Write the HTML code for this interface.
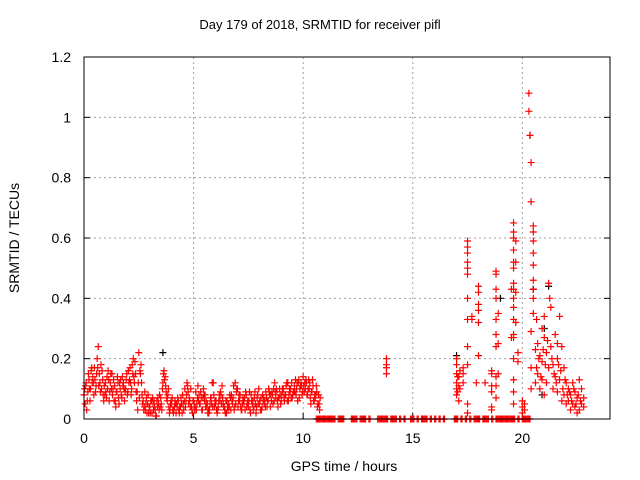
<!DOCTYPE html>
<html><head><meta charset="utf-8"><style>
body{margin:0;background:#fff;}
svg{display:block;font-family:"Liberation Sans",sans-serif;}
</style></head><body>
<svg id="chart" width="640" height="480" viewBox="0 0 640 480">
<text x="320" y="29" text-anchor="middle" font-size="13">Day 179 of 2018, SRMTID for receiver pifl</text>
<text transform="translate(19,238) rotate(-90)" text-anchor="middle" font-size="14">SRMTID / TECUs</text>
<text x="344" y="471" text-anchor="middle" font-size="14">GPS time / hours</text>
<g id="grid"></g>
<g id="ticks"></g>
<g id="marks"></g>
<rect x="84" y="57" width="526" height="362" fill="none" stroke="#000" stroke-width="1"/>
</svg>
<script>
const xTicks=[0,5,10,15,20];
const yTicks=[0,0.2,0.4,0.6,0.8,1,1.2];
const yTickLabels=["0","0.2","0.4","0.6","0.8","1","1.2"];
const earlyTimes=[0,0.1,0.2,0.3,0.4,0.5,0.6,0.7,0.8,0.9,1,1.1,1.2,1.3,1.4,1.5,1.6,1.7,1.8,1.9,2,2.1,2.2,2.3,2.4,2.5,2.6,2.7,2.8,2.9,3,3.1,3.2,3.3,3.4,3.5,3.6,3.7,3.8,3.9,4,4.1,4.2,4.3,4.4,4.5,4.6,4.7,4.8,4.9,5,5.1,5.2,5.3,5.4,5.5,5.6,5.7,5.8,5.9,6,6.1,6.2,6.3,6.4,6.5,6.6,6.7,6.8,6.9,7,7.1,7.2,7.3,7.4,7.5,7.6,7.7,7.8,7.9,8,8.1,8.2,8.3,8.4,8.5,8.6,8.7,8.8,8.9,9,9.1,9.2,9.3,9.4,9.5,9.6,9.7,9.8,9.9,10,10.1,10.2,10.3,10.4,10.5,10.6,10.7];
const earlyValsA=[.08,.12,.15,.10,.14,.13,.20,.15,.10,.06,.09,.16,.12,.08,.11,.09,.05,.08,.12,.10,.09,.17,.18,.12,.06,.22,.18,.06,.03,.05,.04,.02,.06,.01,.05,.07,.12,.14,.06,.02,.05,.03,.02,.06,.04,.08,.10,.12,.07,.04,.06,.09,.11,.05,.03,.06,.04,.02,.07,.12,.05,.03,.06,.11,.04,.02,.05,.03,.07,.12,.10,.06,.03,.05,.08,.04,.02,.06,.09,.07,.05,.03,.07,.09,.06,.04,.08,.12,.09,.07,.06,.10,.08,.12,.09,.07,.11,.10,.13,.12,.14,.10,.08,.12,.09,.06,.11,.08];
const earlyValsB=[.05,.06,.10,.17,.08,.11,.24,.09,.13,.08,.14,.06,.10,.13,.04,.12,.10,.14,.06,.15,.12,.08,.20,.15,.03,.16,.08,.04,.07,.02,.06,.05,.03,.04,.08,.03,.16,.09,.10,.05,.03,.06,.04,.02,.05,.03,.06,.09,.04,.02,.03,.05,.08,.07,.10,.04,.02,.05,.12,.04,.03,.06,.08,.05,.02,.04,.08,.06,.03,.09,.06,.04,.07,.03,.05,.09,.06,.04,.02,.05,.03,.08,.06,.04,.09,.06,.10,.07,.04,.08,.10,.06,.12,.08,.07,.09,.13,.06,.10,.08,.09,.12,.13,.05,.11,.07,.04,.03];
const earlyValsC=[.10,.03,.13,.16,.12,.09,.17,.12,.16,.11,.07,.13,.15,.10,.06,.14,.12,.07,.10,.13,.16,.12,.15,.19,.09,.07,.12,.03,.05,.08,.02,.07,.04,.06,.03,.05,.15,.11,.08,.03,.07,.04,.05,.03,.07,.05,.04,.11,.06,.03,.05,.03,.06,.09,.07,.08,.05,.03,.05,.08,.06,.04,.09,.07,.03,.06,.04,.08,.11,.05,.04,.08,.05,.07,.04,.06,.08,.03,.05,.08,.06,.04,.05,.07,.10,.08,.05,.09,.06,.10,.08,.07,.11,.06,.10,.08,.09,.12,.07,.11,.11,.13,.10,.07,.13,.08,.09,.05];
const earlyValsD=[.11,.09,.06,.12,.17,.15,.11,.18,.08,.12,.10,.09,.15,.06,.09,.07,.13,.11,.09,.08,.13,.10,.14,.09,.12,.15,.05,.09,.02,.04,.06,.03,.01,.07,.04,.10,.13,.07,.04,.06,.02,.05,.07,.04,.02,.06,.08,.05,.10,.06,.04,.07,.05,.03,.08,.06,.03,.07,.04,.06,.02,.08,.05,.04,.06,.03,.07,.05,.04,.10,.08,.03,.06,.09,.06,.03,.05,.07,.04,.10,.07,.06,.04,.06,.08,.09,.06,.10,.07,.05,.09,.08,.06,.10,.12,.09,.08,.12,.11,.09,.12,.08,.10,.09,.06,.08,.05,.07];
const zeroTimes=[10.6,10.7,10.8,10.9,11.0,11.1,11.2,11.3,11.4,11.6,11.7,11.8,12.2,12.3,12.4,12.6,12.7,12.8,13.0,13.4,13.5,13.6,13.7,13.8,14.0,14.1,14.2,14.4,14.6,14.9,15.0,15.2,15.4,15.5,15.6,15.8,16.0,16.2,16.4,16.9,17.0,17.2,17.4,17.6,17.8,17.9,18.0,18.2,18.3,18.4,18.6,18.8,18.9,19.0,19.1,19.2,19.3,19.4,19.5,19.6,19.8,20.0,20.1,20.2,20.3];
const lateTimes=[13.8,13.8,13.8,13.8,17.0,17.0,17.0,17.0,17.0,17.0,17.1,17.1,17.1,17.3,17.3,17.3,17.5,17.5,17.5,17.5,17.5,17.5,17.5,17.5,17.5,17.5,17.5,17.5,17.7,17.7,17.9,18.0,18.0,18.0,18.0,18.0,18.0,18.3,18.6,18.6,18.6,18.6,18.6,18.6,18.8,18.8,18.8,18.8,18.8,18.8,18.8,18.8,18.8,18.8,18.9,18.9,18.9,19.5,19.5,19.6,19.6,19.6,19.6,19.6,19.6,19.6,19.6,19.6,19.6,19.6,19.6,19.6,19.6,19.6,19.6,19.6,19.7,19.7,19.7,19.7,19.8,19.8,20.0,20.0,20.0,20.1,20.1,20.3,20.3,20.35,20.4,20.4,20.4,20.4,20.4,20.5,20.5,20.5,20.5,20.5,20.5,20.5,20.5,20.5,20.6,20.6,20.65,20.7,20.7,20.8,20.8,20.9,20.9,20.9,21.0,21.0,21.0,21.1,21.1,21.2,21.2,21.25,21.3,21.3,21.4,21.4,21.5,21.5,21.6,21.6,21.6,21.7,21.7,21.8,21.8,21.9,21.9,22.0,22.0,22.1,22.1,22.2,22.2,22.3,22.3,22.4,22.4,22.5,22.5,22.6,22.6,22.7,22.7,22.8,22.8,20.65,20.75,20.85,20.95,21.05,21.15,21.35,21.45,21.55,21.65,21.75,21.85,21.95,22.05,22.15,22.25,22.35,22.45,22.55,22.65,17.05,17.05,17.15,17.15];
const lateVals=[.20,.18,.17,.15,.12,.10,.08,.20,.15,.18,.11,.06,.14,.17,.15,.12,.59,.57,.55,.52,.50,.48,.40,.33,.24,.18,.05,.02,.34,.33,.12,.44,.42,.38,.36,.32,.21,.12,.16,.15,.11,.09,.04,.03,.49,.48,.43,.40,.33,.28,.24,.14,.11,.07,.35,.25,.15,.27,.43,.65,.62,.60,.56,.52,.50,.45,.43,.40,.37,.33,.28,.27,.20,.13,.09,.05,.59,.52,.42,.32,.22,.19,.06,.04,.02,.05,.03,1.08,1.02,.94,.85,.72,.29,.17,.10,.64,.62,.59,.55,.51,.46,.43,.40,.35,.23,.12,.33,.25,.15,.21,.10,.30,.13,.19,.27,.08,.34,.22,.12,.45,.17,.40,.37,.24,.18,.10,.28,.14,.20,.09,.25,.34,.13,.24,.06,.17,.08,.12,.05,.10,.06,.08,.03,.12,.05,.09,.04,.07,.02,.13,.03,.10,.05,.07,.04,.17,.20,.14,.23,.18,.26,.20,.15,.12,.18,.16,.10,.13,.08,.09,.06,.10,.05,.08,.06,.09,.14,.10,.16];
const blackTimes=[3.6,17.0,19.0,20.35,20.5,20.9,21.0,21.2];
const blackVals=[.22,.21,.40,.94,.43,.08,.30,.44];

const NS='http://www.w3.org/2000/svg';
const X0=84,X1=610,Y0=419,Y1=57,XMAX=24,YMAX=1.2;
function xs(t){return X0+(X1-X0)*t/XMAX;}
function ys(v){return Y0-(Y0-Y1)*v/YMAX;}
function mk(tag,attrs,parent){const e=document.createElementNS(NS,tag);for(const k in attrs)e.setAttribute(k,attrs[k]);parent.appendChild(e);return e;}
const grid=document.getElementById('grid'),ticks=document.getElementById('ticks'),marks=document.getElementById('marks');
xTicks.forEach(t=>{
  const x=xs(t);
  if(t>0){const g=mk('line',{x1:x,x2:x,y1:Y0,y2:Y1,stroke:'#a0a0a0','stroke-dasharray':'2,3'},grid);
  
  }
  const l=mk('text',{x:x,y:Y0+24,'text-anchor':'middle','font-size':'14'},ticks);
  l.textContent=t;
  
  
  const tk=mk('line',{x1:x,x2:x,y1:Y0,y2:Y0-6,stroke:'#000'},ticks);
  
  
});
yTicks.forEach((v,i)=>{
  const y=ys(v);
  if(v>0&&v<YMAX){const g=mk('line',{x1:X0,x2:X1,y1:y,y2:y,stroke:'#a0a0a0','stroke-dasharray':'2,3'},grid);
  
  }
  const l=mk('text',{x:X0-13,y:y+5,'text-anchor':'end','font-size':'14'},ticks);
  l.textContent=yTickLabels[i];
  
  
  const tk=mk('line',{x1:X0,x2:X0+6,y1:y,y2:y,stroke:'#000'},ticks);
  
  
  const tk2=mk('line',{x1:X1,x2:X1-6,y1:y,y2:y,stroke:'#000'},ticks);
  
  
});
function plus(t,v,color){
  const x=xs(t),y=ys(v);
  const p=mk('path',{d:`M${x-3.5},${y}H${x+3.5}M${x},${y-3.5}V${y+3.5}`,stroke:color,'stroke-width':'1.2',fill:'none'},marks);
  
  
}
blackTimes.forEach((t,i)=>plus(t,blackVals[i],'#000'));
earlyTimes.forEach((t,i)=>{
  plus(t,earlyValsA[i],'#f00');
  plus(t+0.025,earlyValsC[i],'#f00');
  plus(t+0.05,earlyValsB[i],'#f00');
  plus(t+0.075,earlyValsD[i],'#f00');
});
zeroTimes.forEach(t=>{plus(t,0,'#f00');plus(t+0.05,0,'#f00');});
lateTimes.forEach((t,i)=>plus(t,lateVals[i],'#f00'));
</script>
</body></html>
